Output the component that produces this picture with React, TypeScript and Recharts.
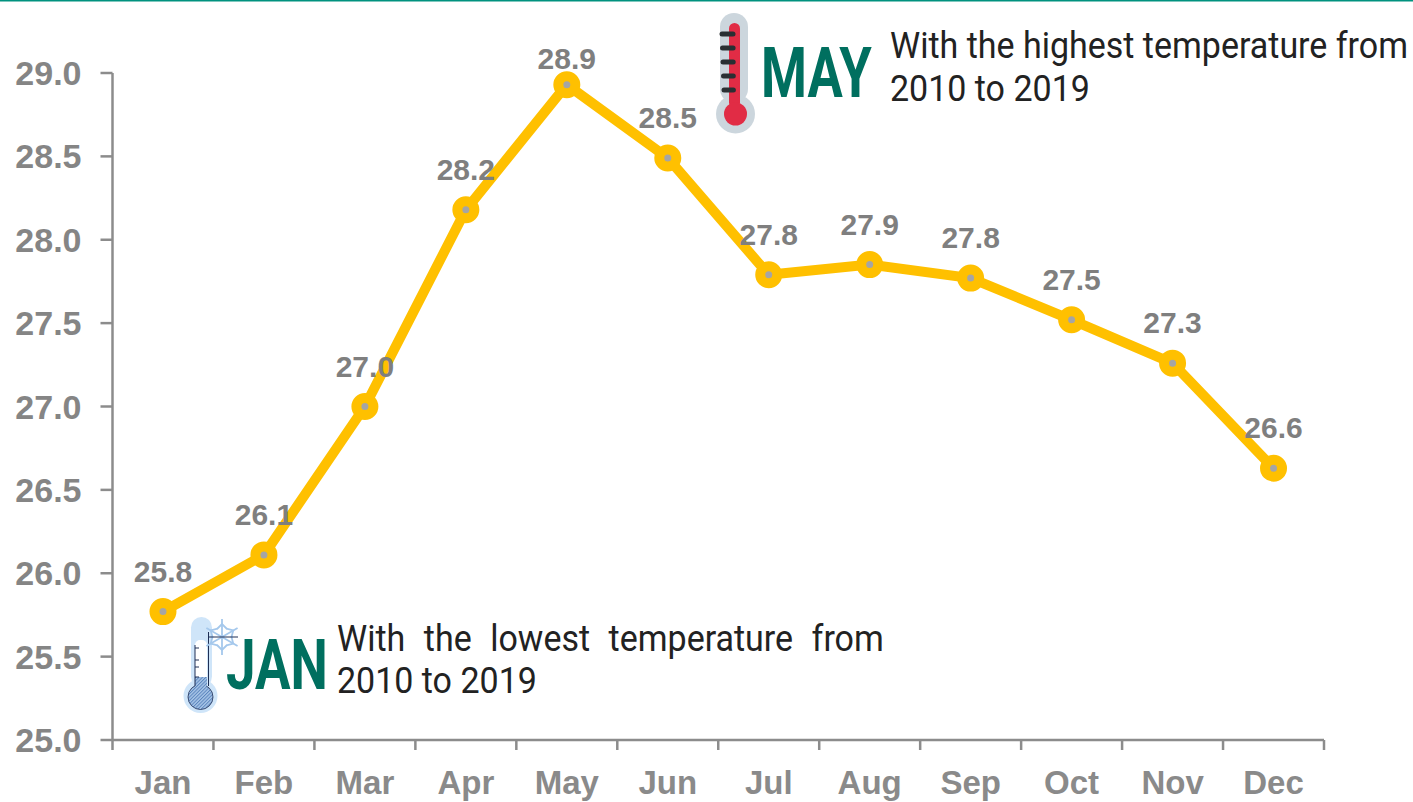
import React from "react";
import { LineChart, Line, XAxis, YAxis, LabelList } from "recharts";

const months = ["Jan", "Feb", "Mar", "Apr", "May", "Jun", "Jul", "Aug", "Sep", "Oct", "Nov", "Dec"];
const temps = [25.77, 26.11, 27.0, 28.18, 28.93, 28.49, 27.79, 27.851, 27.77, 27.52, 27.26, 26.63];
const yTicks = [25, 25.5, 26, 26.5, 27, 27.5, 28, 28.5, 29];
const edgeTicks = [0, 1, 2, 3, 4, 5, 6, 7, 8, 9, 10, 11, 12];
const data = months.map((month, i) => ({ month, temp: temps[i], slot: i }));

const AXIS = "#8c8c8c";
const SANS = "'Liberation Sans', Arial, sans-serif";
const RB = "Roboto, sans-serif";
const GREEN = "#006F5F";
const INK = "#222222";

function HotIcon() {
  const ticks = [34, 48, 62, 76, 90];
  return (
    <g>
      <rect x={720} y={13} width={28} height={90} rx={14} fill="#CCD6DD" />
      <circle cx={735.5} cy={114} r={19.5} fill="#CCD6DD" />
      <rect x={729} y={23} width={11} height={85} rx={5.5} fill="#E12C45" />
      <circle cx={735.5} cy={114} r={11.5} fill="#E12C45" />
      {ticks.map((y, i) => (
        <line key={y} x1={722 + i * 0.5} x2={733 + i * 0.1} y1={y} y2={y} stroke="#292F33" strokeWidth={5} strokeLinecap="round" />
      ))}
    </g>
  );
}

function ColdIcon() {
  const c = { x: 222, y: 637 };
  const angles = [30, 90, 150, 210, 270, 330];
  return (
    <g>
      <defs>
        <pattern id="hatch" width="2.4" height="2.4" patternUnits="userSpaceOnUse" patternTransform="rotate(45)">
          <rect width="2.4" height="2.4" fill="#A9C6E8" />
          <rect width="1" height="2.4" fill="#5C86BE" />
        </pattern>
      </defs>
      <rect x={191} y={617} width={21} height={70} rx={10.5} fill="#CFE5F9" />
      <circle cx={200.5} cy={696} r={17} fill="#CFE5F9" />
      <rect x={195} y={640} width={12} height={45} rx={5} fill="#fff" />
      <rect x={195} y={677} width={12} height={12} fill="url(#hatch)" />
      <circle cx={200.5} cy={697} r={12.5} fill="url(#hatch)" stroke="#1F2F55" strokeWidth={0.8} />
      <rect x={195} y={677} width={11.5} height={12} fill="url(#hatch)" />
      <line x1={195} x2={195} y1={645} y2={686} stroke="#1F2F55" strokeWidth={1} />
      <line x1={208.5} x2={208.5} y1={632} y2={686} stroke="#1F2F55" strokeWidth={1} />
      {[648, 660, 667, 677].map((y) => (
        <line key={y} x1={195} x2={199} y1={y} y2={y} stroke="#1F2F55" strokeWidth={1} />
      ))}
      {angles.map((a) => (
        <g key={a} transform={`rotate(${a} ${c.x} ${c.y})`} stroke="#A5C8EC" strokeWidth={1.8} fill="none">
          <line x1={c.x} y1={c.y} x2={c.x + 18} y2={c.y} />
          <polyline points={`${c.x + 8},${c.y - 5} ${c.x + 13},${c.y} ${c.x + 8},${c.y + 5}`} />
        </g>
      ))}
      <line x1={c.x - 14} x2={c.x + 16} y1={c.y} y2={c.y} stroke="#1F2F55" strokeWidth={1} />
    </g>
  );
}

function Squeezed(p: { x: number; y: number; sx: number; size: number; bold?: boolean; fill: string; ws?: number; children: string }) {
  return (
    <text
      transform={`translate(${p.x} ${p.y}) scale(${p.sx} 1)`}
      fontFamily={RB}
      fontWeight={p.bold ? 700 : 400}
      fontSize={p.size}
      fill={p.fill}
      wordSpacing={p.ws}
    >
      {p.children}
    </text>
  );
}

function Overlay() {
  return (
    <svg width={1413} height={802} style={{ position: "absolute", left: 0, top: 0, pointerEvents: "none" }}>
      <rect x={0} y={0} width={1413} height={1.5} fill="#00927F" />
      <HotIcon />
      <ColdIcon />
      <Squeezed x={761} y={97} sx={0.75} size={70} bold fill={GREEN}>MAY</Squeezed>
      <Squeezed x={226} y={689} sx={0.755} size={70} bold fill={GREEN}>JAN</Squeezed>
      <Squeezed x={890} y={58} sx={0.919} size={37} fill={INK}>With the highest temperature from</Squeezed>
      <Squeezed x={890} y={101} sx={0.919} size={37} fill={INK}>2010 to 2019</Squeezed>
      <Squeezed x={337} y={651} sx={0.919} size={37} fill={INK} ws={11}>With the lowest temperature from</Squeezed>
      <Squeezed x={337} y={693} sx={0.919} size={37} fill={INK}>2010 to 2019</Squeezed>
    </svg>
  );
}

const LOW_LABEL_MONTH = 4;

function TempLabel(p: any) {
  const lift = p.index === LOW_LABEL_MONTH ? 16 : 30;
  return (
    <text
      x={p.x + p.width / 2}
      y={p.y - lift}
      textAnchor="middle"
      fill="#7f7f7f"
      fontFamily={SANS}
      fontSize={30}
      fontWeight={700}
    >
      {Number(p.value).toFixed(1)}
    </text>
  );
}

const NoTickText = () => <g />;

export default function App() {
  return (
    <div style={{ position: "absolute", left: 0, top: 0, width: 1413, height: 802, background: "#fff" }}>
      <LineChart width={1413} height={802} data={data} margin={{ top: 73, right: 89, bottom: 0, left: 0 }}>
        <XAxis
          xAxisId="edges"
          dataKey="slot"
          type="number"
          scale="linear"
          domain={[0, 12]}
          allowDataOverflow
          ticks={edgeTicks}
          interval={0}
          height={1}
          tick={NoTickText}
          tickLine={{ stroke: AXIS, strokeWidth: 2.5 }}
          tickSize={10}
          stroke={AXIS}
          strokeWidth={2.5}
        />
        <XAxis
          xAxisId="months"
          dataKey="month"
          scale="band"
          height={61}
          axisLine={false}
          tickLine={false}
          tickMargin={24}
          interval={0}
          tick={{ fill: "#8a8a8a", fontFamily: SANS, fontSize: 33, fontWeight: 700 }}
        />
        <YAxis
          domain={[25, 29]}
          ticks={yTicks}
          interval={0}
          width={112.5}
          tickSize={12}
          tickMargin={19}
          stroke={AXIS}
          strokeWidth={2.5}
          tickFormatter={(v: number) => v.toFixed(1)}
          tick={{ fill: "#858585", fontFamily: SANS, fontSize: 34, fontWeight: 700, strokeWidth: 0 }}
        />
        <Line
          xAxisId="months"
          dataKey="temp"
          stroke="#FFC000"
          strokeWidth={10}
          isAnimationActive={false}
          dot={{ r: 8.5, stroke: "#FFC000", strokeWidth: 10, fill: "#A5A5A5" }}
        >
          <LabelList dataKey="temp" content={TempLabel} />
        </Line>
      </LineChart>
      <Overlay />
    </div>
  );
}
